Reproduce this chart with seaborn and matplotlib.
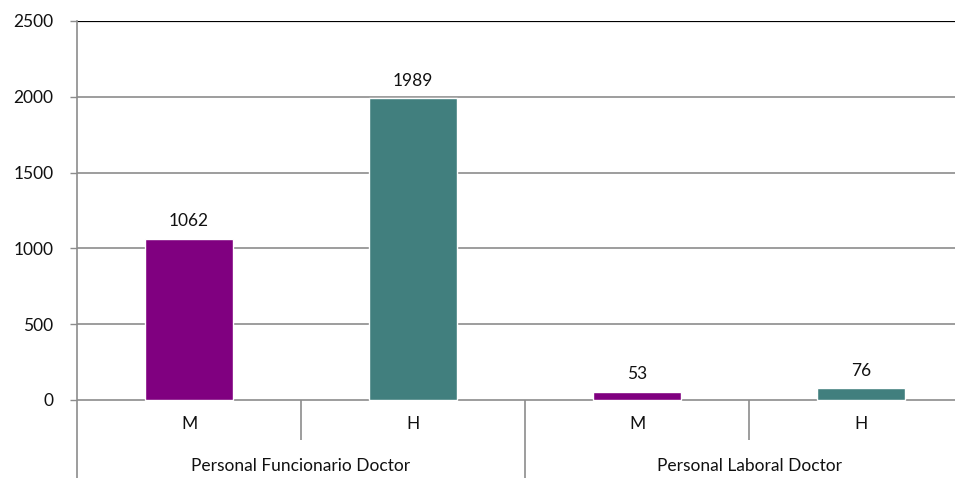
import pandas as pd
import matplotlib
matplotlib.use("Agg")
import matplotlib.pyplot as plt
import seaborn as sns

# data
groups = ["Personal Funcionario Doctor", "Personal Laboral Doctor"]
sexes = ["M", "H"]
values = [1062, 1989, 53, 76]
bar_colors = ["#800080", "#417F7E", "#800080", "#417F7E"]
y_ticks = [0, 500, 1000, 1500, 2000, 2500]

keys = [f"{g}|{s}" for g in groups for s in sexes]
df = pd.DataFrame({"key": keys, "value": values})

sns.set_style("white")
plt.rcParams["font.family"] = ["Lato", "DejaVu Sans"]
FS = 12.5

W, H = 955, 478
fig = plt.figure(figsize=(W / 100, H / 100), dpi=100)
# axes: left edge at x=77px, top at y=21px, runs to bottom of image
ax = fig.add_axes([77 / W, 0, 1 - 77 / W, 1 - 21 / H])

sns.barplot(data=df, x="key", y="value", order=keys, hue="key",
            palette=dict(zip(keys, bar_colors)), legend=False,
            width=0.395, saturation=1, ax=ax)

# scale: 0 at 400px, 2500 at 21px
ppu = (400 - 21) / 2500
ymin = -(H - 400) / ppu
ax.set_ylim(ymin, 2500)
ax.set_xlim(-0.5, -0.5 + (W - 77) / 224)

for cont in ax.containers:
    ax.bar_label(cont, padding=7, fontsize=FS, color="#111111")

# gridlines
for t in y_ticks:
    ax.axhline(t, color="#8c8c8c" if t < 2500 else "#000000",
               lw=1.2 if t < 2500 else 1.6, zorder=0)

ax.set_yticks(y_ticks)
ax.set_yticklabels([str(t) for t in y_ticks], fontsize=FS, color="#111111")
ax.tick_params(axis="y", length=5, width=1, color="#8c8c8c", pad=12, left=True)
ax.set_xticks([])
ax.set_xlabel("")
ax.set_ylabel("")

for side in ["top", "right", "bottom"]:
    ax.spines[side].set_visible(False)
ax.spines["left"].set_color("#8c8c8c")
ax.spines["left"].set_linewidth(1.2)

# category axis with two levels
lvl1 = -(440 - 400) / ppu
for i, k in enumerate(keys):
    ax.text(i, -(424 - 400) / ppu, k.split("|")[1], ha="center", va="center",
            fontsize=FS, color="#111111")
for j, g in enumerate(groups):
    ax.text(2 * j + 0.5, -(466 - 400) / ppu, g, ha="center", va="center",
            fontsize=FS, color="#111111")
ax.vlines([0.5, 2.5], lvl1, 0, color="#8c8c8c", lw=1.2)
ax.vlines([1.5], ymin, 0, color="#8c8c8c", lw=1.2)

fig.savefig("out.png", dpi=100)
